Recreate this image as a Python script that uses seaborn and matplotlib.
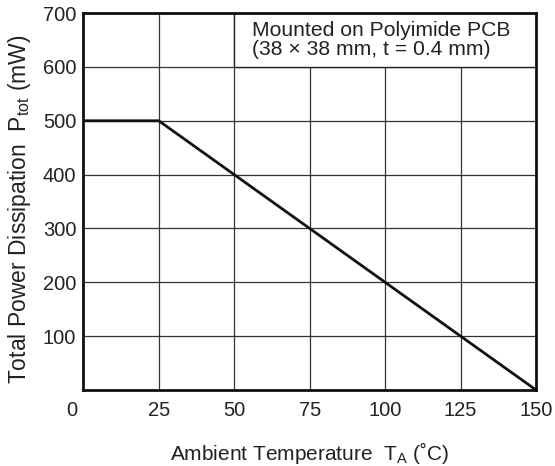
"""
Power derating curve
"""
import matplotlib
matplotlib.use("Agg")
import matplotlib.pyplot as plt
import matplotlib.transforms as mtransforms
from matplotlib.patches import Rectangle
import numpy as np
import pandas as pd
import seaborn as sns

# data
temp_c = [0, 25, 150]
power_mw = [500, 500, 0]
x_ticks = [0, 25, 50, 75, 100, 125, 150]
y_ticks = [100, 200, 300, 400, 500, 600, 700]
note_lines = ["Mounted on Polyimide PCB", "(38 × 38 mm, t = 0.4 mm)"]

sns.set_theme(style="white")
plt.rcParams["font.family"] = ["Liberation Sans", "DejaVu Sans"]
plt.rcParams["mathtext.fontset"] = "custom"
plt.rcParams["mathtext.rm"] = "Liberation Sans"

df = pd.DataFrame({"T": temp_c, "P": power_mw})

fig = plt.figure(figsize=(5.55, 4.66), dpi=100)
ax = fig.add_axes([0.150, 0.163, 0.816, 0.809])

sns.lineplot(data=df, x="T", y="P", ax=ax, color="#111111", linewidth=2.0,
             zorder=4)

ax.set_xlim(0, 150)
ax.set_ylim(0, 700)
ax.set_xticks(x_ticks)
ax.set_yticks(y_ticks)
ax.grid(True, color="#333333", linewidth=0.9)
ax.set_axisbelow(True)

# white note box covering the grid in the top right corner
ax.add_patch(Rectangle((50, 600), 100, 100, facecolor="white",
                       edgecolor="#222222", linewidth=1.0, zorder=3))
ax.text(56, 668, note_lines[0], fontsize=15.2, color="#222222",
        va="center", ha="left", zorder=5)
ax.text(56, 632, note_lines[1], fontsize=15.2, color="#222222",
        va="center", ha="left", zorder=5)

for s in ax.spines.values():
    s.set_color("#111111")
    s.set_linewidth(2.0)
    s.set_zorder(6)

ax.tick_params(axis="both", length=0, labelsize=14.5, colors="#222222")
ax.tick_params(axis="x", pad=8)
ax.tick_params(axis="y", pad=5)

# the "0" label sits a bit left of the corner
lbl0 = ax.get_xticklabels()[0]
lbl0.set_transform(lbl0.get_transform() +
                   mtransforms.ScaledTranslation(-11 / 100, 0, fig.dpi_scale_trans))

ax.set_xlabel(r"Ambient Temperature  T$_{\mathregular{A}}$ (˚C)",
              fontsize=15, color="#222222", labelpad=14)
ax.set_ylabel(r"Total Power Dissipation  P$_{\mathregular{tot}}$ (mW)",
              fontsize=16.5, color="#222222")
ax.yaxis.set_label_coords(-0.11, 0.48)

fig.savefig("out.png", dpi=100)
